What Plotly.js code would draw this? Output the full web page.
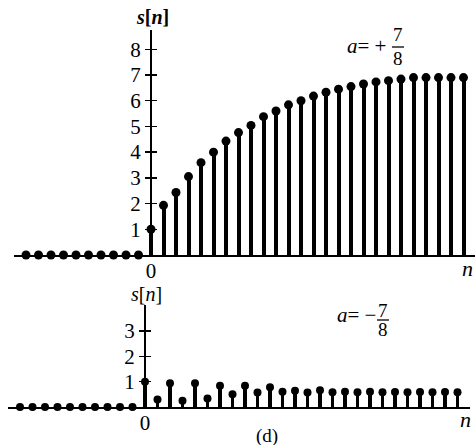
<!DOCTYPE html>
<html>
<head>
<meta charset="utf-8">
<script src="https://cdn.plot.ly/plotly-3.0.1.min.js"></script>
<style>html,body{margin:0;padding:0;background:#fff;}#chart{width:475px;height:445px;}</style>
</head>
<body>
<div id="chart"></div>
<script>
// ---- data ----
const nNeg = [-10,-9,-8,-7,-6,-5,-4,-3,-2,-1];
const zeroNeg = [0,0,0,0,0,0,0,0,0,0];
const nPos = [0,1,2,3,4,5,6,7,8,9,10,11,12,13,14,15,16,17,18,19,20,21,22,23,24,25];
const sPlus = [1.0,1.93,2.43,3.05,3.59,4.0,4.43,4.76,5.04,5.38,5.6,5.84,6.0,6.18,6.33,6.45,6.55,6.65,6.73,6.78,6.84,6.9,6.9,6.9,6.9,6.9];
const sMinus = [1.0,0.3,0.94,0.25,0.94,0.34,0.84,0.5,0.84,0.57,0.78,0.6,0.64,0.57,0.66,0.58,0.6,0.58,0.6,0.58,0.59,0.58,0.59,0.58,0.59,0.58];
const topTicks = [1,2,3,4,5,6,7,8];
const botTicks = [1,2,3];

const W = 475, H = 445;
const px = x => x / W;
const py = y => 1 - y / H;
const serif = "'Liberation Serif', 'Times New Roman', serif";

const topX = [-10.96, 25.92], topDom = [14/W, 1];
const botX = [-10.96, 26.0], botDom = [8/W, 470/W];
const axisPos = (r, d) => d[0] + (0 - r[0]) / (r[1] - r[0]) * (d[1] - d[0]);

const traces = [
  {type:'bar', x:nPos, y:sPlus, xaxis:'x', yaxis:'y', width:0.32, marker:{color:'#000'}, hoverinfo:'skip'},
  {type:'scatter', mode:'markers', x:nPos, y:sPlus, xaxis:'x', yaxis:'y', cliponaxis:false, marker:{color:'#000', size:9}},
  {type:'scatter', mode:'markers', x:nNeg, y:zeroNeg, xaxis:'x', yaxis:'y3', cliponaxis:false, marker:{color:'#000', size:9}},
  {type:'bar', x:nPos, y:sMinus, xaxis:'x2', yaxis:'y2', width:0.27, marker:{color:'#000'}, hoverinfo:'skip'},
  {type:'scatter', mode:'markers', x:nPos, y:sMinus, xaxis:'x2', yaxis:'y2', cliponaxis:false, marker:{color:'#000', size:8}},
  {type:'scatter', mode:'markers', x:nNeg, y:zeroNeg, xaxis:'x2', yaxis:'y4', cliponaxis:false, marker:{color:'#000', size:8}}
];

const tickFont = {family:serif, size:21, color:'#000'};
const xCommon = {showgrid:false, zeroline:false, showline:true, linecolor:'#000', linewidth:2,
  tickvals:[0], ticktext:['0'], ticks:'', tickfont:tickFont, ticklabelstandoff:-4, fixedrange:true};
const yCommon = {showgrid:false, zeroline:false, showline:true, linecolor:'#000', linewidth:2,
  ticks:'outside', ticklen:5, tickwidth:1.5, tickcolor:'#000', tickfont:tickFont, anchor:'free', fixedrange:true};
const yInner = {showgrid:false, zeroline:false, showline:false, ticks:'inside', ticklen:5, tickwidth:1.5,
  tickcolor:'#000', showticklabels:false, anchor:'free', fixedrange:true};

const topYDom = [py(255), py(30)];
const botYDom = [py(407), py(305)];
const topYR = [0, 8.75];
const botYR = [0, 4.03];

function label(x, y, text, size) {
  return {xref:'paper', yref:'paper', x:px(x), y:py(y), xanchor:'center', yanchor:'middle',
    text:text, showarrow:false, font:{family:serif, size:size, color:'#000'}};
}

const layout = {
  width:W, height:H, margin:{l:0, r:0, t:0, b:0},
  paper_bgcolor:'#fff', plot_bgcolor:'rgba(0,0,0,0)',
  showlegend:false, bargap:0,
  xaxis: Object.assign({}, xCommon, {domain:topDom, range:topX, anchor:'y'}),
  yaxis: Object.assign({}, yCommon, {domain:topYDom, range:topYR, tickvals:topTicks, position:axisPos(topX, topDom)}),
  yaxis3: Object.assign({}, yInner, {domain:topYDom, range:topYR, tickvals:topTicks, overlaying:'y', position:axisPos(topX, topDom)}),
  xaxis2: Object.assign({}, xCommon, {domain:botDom, range:botX, anchor:'y2'}),
  yaxis2: Object.assign({}, yCommon, {domain:botYDom, range:botYR, tickvals:botTicks, position:axisPos(botX, botDom)}),
  yaxis4: Object.assign({}, yInner, {domain:botYDom, range:botYR, tickvals:botTicks, overlaying:'y2', position:axisPos(botX, botDom)}),
  annotations: [
    label(152, 17, '<b><i>s</i>[<i>n</i>]</b>', 20),
    label(146, 294, '<i>s</i>[<i>n</i>]', 20),
    label(467, 268, '<i>n</i>', 22),
    label(465, 419, '<i>n</i>', 22),
    label(267, 436, '(d)', 19),
    label(366, 46, '<i>a</i>= +', 21),
    label(398, 35, '7', 19),
    label(398, 58, '8', 19),
    label(356, 315, '<i>a</i>= −', 21),
    label(383, 310, '7', 19),
    label(383, 329, '8', 19)
  ],
  shapes: [
    {type:'line', xref:'paper', yref:'paper', x0:px(392), x1:px(404), y0:py(47), y1:py(47), line:{color:'#000', width:1.3}},
    {type:'line', xref:'paper', yref:'paper', x0:px(377), x1:px(389), y0:py(320), y1:py(320), line:{color:'#000', width:1.3}}
  ]
};

Plotly.newPlot('chart', traces, layout, {staticPlot:true, displayModeBar:false});
</script>
</body>
</html>
